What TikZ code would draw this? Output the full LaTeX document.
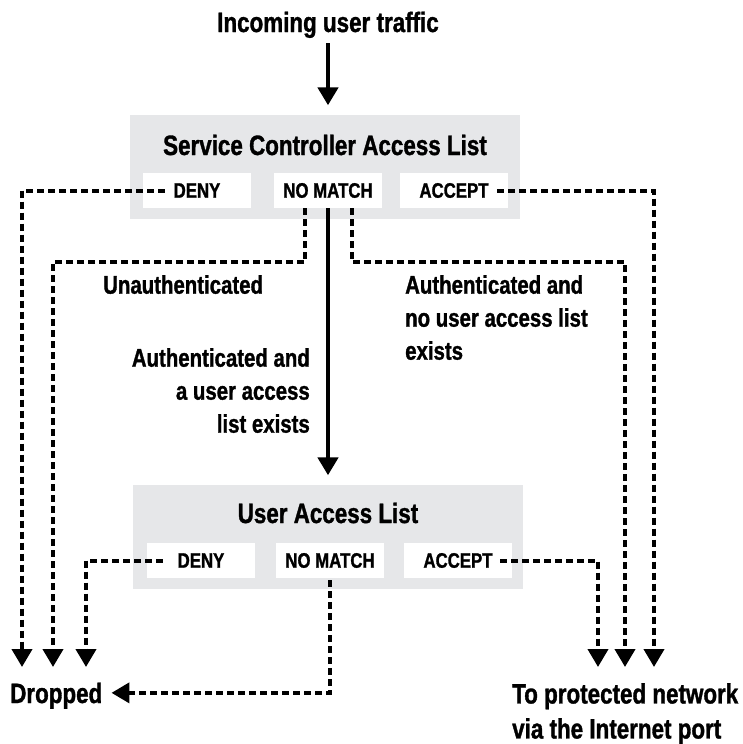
\documentclass[tikz,border=0pt]{standalone}
\usepackage{fontspec}
\setmainfont{Liberation Sans}[FakeStretch=0.8,FakeBold=1.2]
\usetikzlibrary{calc,arrows.meta}
\definecolor{listgray}{RGB}{230,231,233}

\begin{document}
\begin{tikzpicture}[x=1pt,y=-1pt,
  listbox/.style={fill=listgray,minimum width=390pt,minimum height=104pt,inner sep=0pt},
  rulebox/.style={fill=white,minimum width=108pt,minimum height=35pt,inner sep=0pt,font=\fontsize{21}{24}\selectfont\bfseries},
  title/.style={inner sep=0pt,font=\fontsize{28}{35}\selectfont\bfseries},
  pathlabel/.style={inner sep=0pt,font=\fontsize{25.5}{33}\selectfont\bfseries},
  flow/.style={line width=4.5pt,-{Triangle[width=20pt,length=18pt]}},
  dashflow/.style={line width=4pt,dash pattern=on 7pt off 4pt,-{Triangle[width=20pt,length=18pt]}}]
\useasboundingbox (0,0) rectangle (743,744);

\node[title,anchor=base] (in) at (328,32) {Incoming user traffic};

% service controller access list
\node[listbox] (scal) at (325,166.5) {};
\node[title,anchor=base] (scaltitle) at (325,155) {Service Controller Access List};
\node[rulebox] (sdeny) at (197,190.5) {DENY};
\node[rulebox] (snomatch) at (328,190.5) {NO MATCH};
\node[rulebox] (saccept) at (454,190.5) {ACCEPT};

% user access list
\node[listbox] (ual) at (328,536.5) {};
\node[title,anchor=base] (ualtitle) at (328,523) {User Access List};
\node[rulebox] (udeny) at (201,560.5) {DENY};
\node[rulebox] (unomatch) at (330,560.5) {NO MATCH};
\node[rulebox] (uaccept) at (458,560.5) {ACCEPT};

% path labels
\node[pathlabel,anchor=north west] (unauth) at (103,275) {Unauthenticated};
\node[pathlabel,anchor=north east,align=right] (authlist) at (310,348) {Authenticated and\\a user access\\list exists};
\node[pathlabel,anchor=north west,align=left] (authnolist) at (405,275) {Authenticated and\\no user access list\\exists};

% results
\node[title,anchor=base west,text depth=0pt] (drop) at (10,703) {Dropped};
\node[title,anchor=north west,align=left] (net) at (512,683) {To protected network\\via the Internet port};
\coordinate (d1) at (22,667);
\coordinate (d2) at (53,667);
\coordinate (d3) at (86,667);
\coordinate (n1) at (598,667);
\coordinate (n2) at (625,667);
\coordinate (n3) at (654,667);

\draw[flow,shorten <=5pt,shorten >=9pt] (in.south) -- (in.south |- scal.north);
\draw[flow,shorten >=9pt] (snomatch.south) -- (snomatch.south |- ual.north);

\draw[dashflow] ($(sdeny.west)+(22,0)$) -| (d1);
\draw[dashflow] ($(snomatch.south)+(-23,0)$) -- ++(0,54) -| (d2);
\draw[dashflow] ($(snomatch.south)+(24,0)$) -- ++(0,54) -| (n2);
\draw[dashflow] ($(saccept.east)+(-11,0)$) -| (n3);

\draw[dashflow] ($(udeny.west)+(16,0)$) -| (d3);
\draw[dashflow] ($(unomatch.south)+(0,2)$) |- ([xshift=9pt]drop.east);
\draw[dashflow] ($(uaccept.east)+(-12,0)$) -| (n1);
\end{tikzpicture}
\end{document}
